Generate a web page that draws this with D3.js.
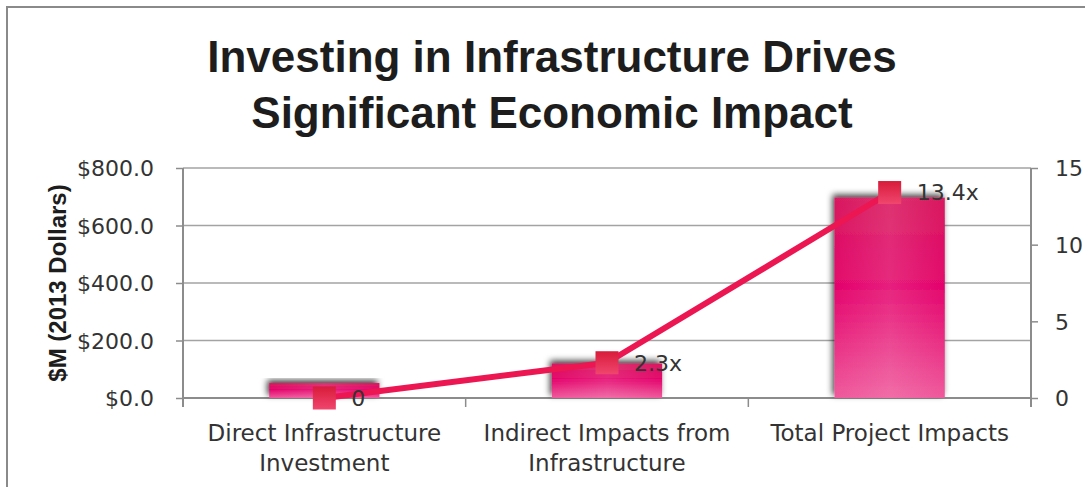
<!DOCTYPE html>
<html>
<head>
<meta charset="utf-8">
<script src="https://cdn.jsdelivr.net/npm/d3@7"></script>
<style>
  html, body { margin: 0; padding: 0; background: #fff; }
  svg { display: block; }
</style>
</head>
<body>
<svg id="chart" width="1085" height="487"></svg>
<script>
// Category labels (two lines each), bar values ($M) and multiplier line values
const categories = ["Direct Infrastructure Investment", "Indirect Impacts from Infrastructure", "Total Project Impacts"];
const categoryLines = [["Direct Infrastructure", "Investment"], ["Indirect Impacts from", "Infrastructure"], ["Total Project Impacts"]];
const impactValues = [52, 120, 697];
const multiplierValues = [0, 2.3, 13.4];
const multiplierLabels = ["0", "2.3x", "13.4x"];
const leftTicks = [0, 200, 400, 600, 800];
const rightTicks = [0, 5, 10, 15];

const svg = d3.select("#chart");
const W = 1085, H = 487;
const plot = { left: 183, right: 1031, top: 168, bottom: 398 };
const labelFont = "'DejaVu Sans', sans-serif";
const boldFont = "'Liberation Sans', Arial, sans-serif";
const axisColor = "#8c8c8c";

// Defs: bar gradient, highlight, marker gradient, shadow
const defs = svg.append("defs");
const barGrad = defs.append("linearGradient").attr("id", "barGrad").attr("x1", 0).attr("y1", 0).attr("x2", 0).attr("y2", 1);
[[0, "#d81a5e"], [0.45, "#e4056d"], [1, "#ef5a9c"]].forEach(([o, c]) => barGrad.append("stop").attr("offset", o).attr("stop-color", c));
const barHi = defs.append("linearGradient").attr("id", "barHi").attr("x1", 0).attr("y1", 0).attr("x2", 1).attr("y2", 0);
[[0, 0], [0.5, 0.12], [1, 0]].forEach(([o, a]) => barHi.append("stop").attr("offset", o).attr("stop-color", "#fff").attr("stop-opacity", a));
const mkGrad = defs.append("linearGradient").attr("id", "mkGrad").attr("x1", 0).attr("y1", 0).attr("x2", 0).attr("y2", 1);
[[0, "#d81b3a"], [1, "#f0466e"]].forEach(([o, c]) => mkGrad.append("stop").attr("offset", o).attr("stop-color", c));
const shadow = defs.append("filter").attr("id", "shadow").attr("x", "-30%").attr("y", "-30%").attr("width", "160%").attr("height", "160%");
shadow.append("feDropShadow").attr("dx", -2).attr("dy", -3).attr("stdDeviation", 3).attr("flood-color", "#000").attr("flood-opacity", 0.75);

// Outer frame
svg.append("rect").attr("x", 7).attr("y", 7).attr("width", W + 20).attr("height", H + 20)
  .attr("fill", "#fff").attr("stroke", "#8a8a8a").attr("stroke-width", 2);

// Title
const title = svg.append("text").attr("text-anchor", "middle").attr("font-family", boldFont)
  .attr("font-weight", "bold").attr("font-size", 44).attr("fill", "#1d1d1d");
title.append("tspan").attr("x", 552).attr("y", 72).text("Investing in Infrastructure Drives");
title.append("tspan").attr("x", 552).attr("y", 128).text("Significant Economic Impact");

// Scales
const x = d3.scaleBand().domain(categories).range([plot.left, plot.right]).padding(0);
const yL = d3.scaleLinear().domain([0, 800]).range([plot.bottom, plot.top]);
const yR = d3.scaleLinear().domain([0, 15]).range([plot.bottom, plot.top]);
const barW = x.bandwidth() * 0.39;

// Gridlines
svg.append("g").selectAll("line").data(leftTicks).join("line")
  .attr("x1", plot.left).attr("x2", plot.right)
  .attr("y1", d => yL(d)).attr("y2", d => yL(d))
  .attr("stroke", "#a3a3a3").attr("stroke-width", 1.5);

// Left axis
const gL = svg.append("g").attr("transform", `translate(${plot.left},0)`)
  .call(d3.axisLeft(yL).tickValues(leftTicks).tickSize(7).tickPadding(22).tickFormat(d => "$" + d.toFixed(1)));
gL.select(".domain").remove();
gL.selectAll(".tick line").attr("stroke", axisColor).attr("stroke-width", 1.5);
gL.selectAll(".tick text").attr("font-family", labelFont).attr("font-size", 22).attr("fill", "#333").attr("dy", "0.36em");

// Right axis
const gR = svg.append("g").attr("transform", `translate(${plot.right},0)`)
  .call(d3.axisRight(yR).tickValues(rightTicks).tickSize(7).tickPadding(17));
gR.select(".domain").remove();
gR.selectAll(".tick line").attr("stroke", axisColor).attr("stroke-width", 1.5);
gR.selectAll(".tick text").attr("font-family", labelFont).attr("font-size", 22).attr("fill", "#333").attr("dy", "0.36em");

// Vertical axis lines
[plot.left, plot.right].forEach(px => svg.append("line")
  .attr("x1", px).attr("x2", px).attr("y1", plot.top).attr("y2", plot.bottom + 9)
  .attr("stroke", axisColor).attr("stroke-width", 2));

// Category axis line and boundary ticks
svg.append("line").attr("x1", plot.left).attr("x2", plot.right).attr("y1", plot.bottom).attr("y2", plot.bottom)
  .attr("stroke", axisColor).attr("stroke-width", 2);
const bounds = categories.map(c => x(c)).slice(1);
svg.append("g").selectAll("line").data(bounds).join("line")
  .attr("x1", d => d).attr("x2", d => d).attr("y1", plot.bottom).attr("y2", plot.bottom + 9)
  .attr("stroke", axisColor).attr("stroke-width", 1.5);

// Category labels
const catG = svg.append("g");
categories.forEach((c, i) => {
  const t = catG.append("text").attr("text-anchor", "middle").attr("font-family", labelFont)
    .attr("font-size", 23).attr("fill", "#333");
  categoryLines[i].forEach((ln, j) => t.append("tspan")
    .attr("x", x(c) + x.bandwidth() / 2).attr("y", 441 + j * 30).text(ln));
});

// Y axis title
svg.append("text").attr("transform", `translate(57,${(plot.top + plot.bottom) / 2}) rotate(-90)`)
  .attr("text-anchor", "middle").attr("dominant-baseline", "central")
  .attr("font-family", boldFont).attr("font-weight", "bold").attr("font-size", 24).attr("fill", "#1d1d1d")
  .text("$M (2013 Dollars)");

// Bars
const barG = svg.append("g");
barG.selectAll("rect.bar").data(impactValues).join("rect").attr("class", "bar")
  .attr("x", (d, i) => x(categories[i]) + (x.bandwidth() - barW) / 2)
  .attr("y", d => yL(d)).attr("width", barW).attr("height", d => yL(0) - yL(d))
  .attr("fill", "url(#barGrad)").attr("filter", "url(#shadow)");
barG.selectAll("rect.hi").data(impactValues).join("rect").attr("class", "hi")
  .attr("x", (d, i) => x(categories[i]) + (x.bandwidth() - barW) / 2)
  .attr("y", d => yL(d)).attr("width", barW).attr("height", d => yL(0) - yL(d))
  .attr("fill", "url(#barHi)");

// Multiplier line
const cx = i => x(categories[i]) + x.bandwidth() / 2;
svg.append("path").datum(multiplierValues)
  .attr("d", d3.line().x((d, i) => cx(i)).y(d => yR(d)))
  .attr("fill", "none").attr("stroke", "#ec1652").attr("stroke-width", 6).attr("stroke-linejoin", "round");

// Square markers
const mk = 23;
svg.append("g").selectAll("rect").data(multiplierValues).join("rect")
  .attr("x", (d, i) => cx(i) - mk / 2).attr("y", d => yR(d) - mk / 2)
  .attr("width", mk).attr("height", mk).attr("fill", "url(#mkGrad)");

// Value labels
svg.append("g").selectAll("text").data(multiplierValues).join("text")
  .attr("x", (d, i) => cx(i) + 27).attr("y", d => yR(d)).attr("dy", "0.36em")
  .attr("font-family", labelFont).attr("font-size", 22).attr("fill", "#333")
  .text((d, i) => multiplierLabels[i]);
</script>
</body>
</html>
